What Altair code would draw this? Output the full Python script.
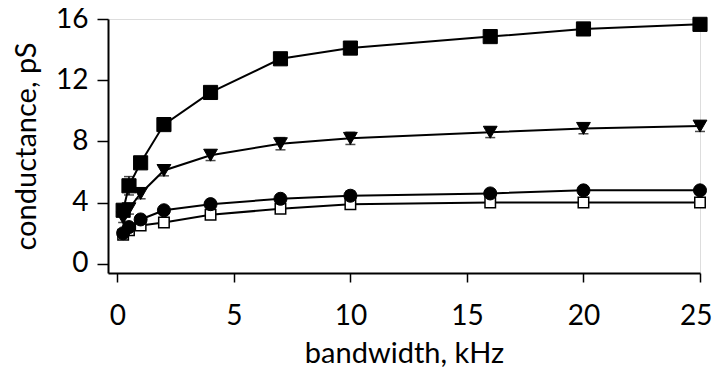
import altair as alt
import pandas as pd

bandwidth = [0.25, 0.5, 1, 2, 4, 7, 10, 16, 20, 25]
sq_filled = [3.5, 5.1, 6.6, 9.1, 11.2, 13.4, 14.1, 14.85, 15.35, 15.65]
sq_filled_err = [0.3, 0.6, 0.3, 0.3, 0.3, 0.3, 0.3, 0.3, 0.3, 0.3]
tri_down = [3.0, 3.6, 4.6, 6.1, 7.1, 7.85, 8.2, 8.6, 8.85, 9.0]
tri_down_err = [0.3, 0.35, 0.35, 0.35, 0.35, 0.4, 0.4, 0.35, 0.35, 0.35]
circ_filled = [2.0, 2.4, 2.9, 3.5, 3.9, 4.25, 4.45, 4.6, 4.8, 4.8]
circ_filled_err = [0.2, 0.2, 0.2, 0.25, 0.25, 0.25, 0.3, 0.25, 0.25, 0.25]
sq_open = [1.9, 2.2, 2.5, 2.7, 3.2, 3.6, 3.9, 4.0, 4.0, 4.0]
sq_open_err = [0.2, 0.2, 0.2, 0.25, 0.2, 0.2, 0.2, 0.2, 0.2, 0.2]

x_ticks = [0, 5, 10, 15, 20, 25]
y_ticks = [0, 2, 4, 6, 8, 10, 12, 14, 16]

series = [
    ("filled square", sq_filled, sq_filled_err),
    ("triangle", tri_down, tri_down_err),
    ("filled circle", circ_filled, circ_filled_err),
    ("open square", sq_open, sq_open_err),
]
rows = []
for name, vals, errs in series:
    for b, v, e in zip(bandwidth, vals, errs):
        rows.append({"series": name, "bw": b, "g": v, "lo": v - e, "hi": v + e})
df = pd.DataFrame(rows)

FONT = "Lato"
FS = 28
xs = alt.Scale(domain=[-0.4, 25], nice=False, zero=False)
ys = alt.Scale(domain=[-0.6, 16], nice=False, zero=False)

x_axis = alt.Axis(
    values=x_ticks, title="bandwidth, kHz", grid=False, domainColor="black",
    domainWidth=2, tickColor="black", tickWidth=1.5, tickSize=9,
    labelFont=FONT, labelFontSize=FS, labelColor="black", labelPadding=20,
    labelFlush=1, labelFlushOffset=12,
    titleFont=FONT, titleFontSize=29, titleFontWeight="normal", titleColor="black",
    titlePadding=9,
)
y_axis = alt.Axis(
    values=y_ticks, title="conductance, pS", grid=False, domainColor="black",
    domainWidth=2, tickColor="black", tickWidth=1.5,
    tickSize={"condition": {"test": "datum.value % 4 === 0", "value": 11}, "value": 6},
    labelExpr="datum.value % 4 === 0 ? datum.label : ''",
    labelFont=FONT, labelFontSize=FS, labelColor="black", labelPadding=9,
    titleFont=FONT, titleFontSize=29, titleFontWeight="normal", titleColor="black",
    titlePadding=14, labelFlush=False,
)

base = alt.Chart(df)
X = alt.X("bw:Q", scale=xs, axis=x_axis)
Y = alt.Y("g:Q", scale=ys, axis=y_axis)

lines = base.mark_line(color="black", strokeWidth=2).encode(
    x=X, y=Y, detail="series:N", order="bw:Q"
)
err_rule = base.mark_rule(color="black", strokeWidth=1.5).encode(
    x="bw:Q", y="lo:Q", y2="hi:Q"
)
err_lo = base.mark_tick(color="black", thickness=1.5, size=10, orient="horizontal").encode(
    x="bw:Q", y="lo:Q"
)
err_hi = base.mark_tick(color="black", thickness=1.5, size=10, orient="horizontal").encode(
    x="bw:Q", y="hi:Q"
)

def pts(name, shape, size, filled):
    return base.transform_filter(alt.datum.series == name).mark_point(
        shape=shape, size=size, filled=filled,
        fill="black" if filled else "white", stroke="black",
        strokeWidth=1 if filled else 1.5, opacity=1,
    ).encode(x="bw:Q", y="g:Q")

chart = alt.layer(
    lines, err_rule, err_lo, err_hi,
    pts("open square", "square", 110, False),
    pts("filled circle", "circle", 170, True),
    pts("triangle", "triangle-down", 190, True),
    pts("filled square", "square", 200, True),
).properties(
    width=592, height=254,
    autosize=alt.AutoSizeParams(type="none"),
    padding={"left": 100, "top": 11, "right": 12, "bottom": 97},
).configure_view(stroke=None).configure(background="white")

chart.save("out.html", embed_options={"renderer": "svg", "actions": False})
